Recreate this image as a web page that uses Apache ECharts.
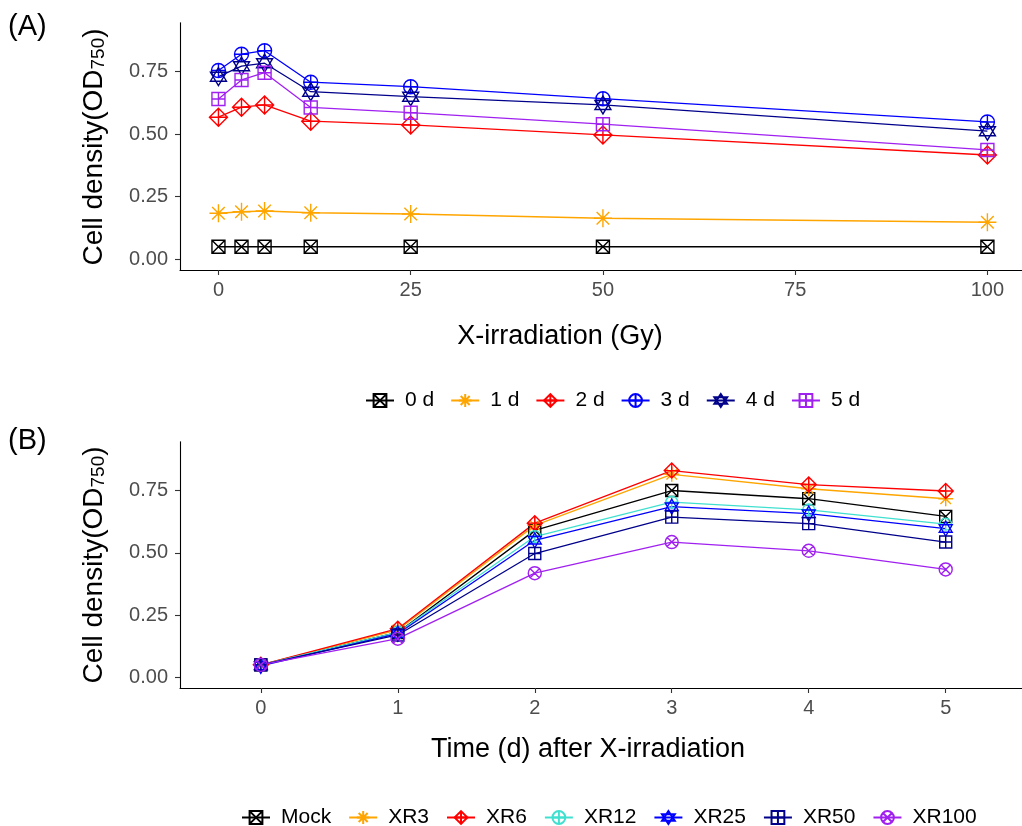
<!DOCTYPE html>
<html><head><meta charset="utf-8">
<script src="https://cdn.jsdelivr.net/npm/echarts@6/dist/echarts.min.js"></script>
<style>html,body{margin:0;padding:0;background:#fff}#c{width:1022px;height:826px}</style>
</head><body><div id="c"></div>
<script>
// ---- Panel A data ----
const doseA = [0, 3, 6, 12, 25, 50, 100];
const namesA = ['0 d', '1 d', '2 d', '3 d', '4 d', '5 d'];
const d0 = [0.05, 0.05, 0.05, 0.05, 0.05, 0.05, 0.05];
const d1 = [0.184, 0.19, 0.193, 0.186, 0.181, 0.164, 0.148];
const d2 = [0.568, 0.608, 0.617, 0.552, 0.537, 0.497, 0.417];
const d3 = [0.755, 0.82, 0.834, 0.708, 0.69, 0.642, 0.549];
const d4 = [0.73, 0.772, 0.784, 0.67, 0.65, 0.617, 0.512];
const d5 = [0.641, 0.717, 0.746, 0.607, 0.586, 0.54, 0.437];
const ticksAx = [0, 25, 50, 75, 100];
// ---- Panel B data ----
const days = [0, 1, 2, 3, 4, 5];
const namesB = ['Mock', 'XR3', 'XR6', 'XR12', 'XR25', 'XR50', 'XR100'];
const mock = [0.05, 0.18, 0.59, 0.75, 0.717, 0.646];
const xr3 = [0.05, 0.19, 0.61, 0.815, 0.757, 0.717];
const xr6 = [0.05, 0.195, 0.619, 0.83, 0.774, 0.748];
const xr12 = [0.05, 0.18, 0.565, 0.703, 0.672, 0.615];
const xr25 = [0.046, 0.175, 0.55, 0.685, 0.657, 0.597];
const xr50 = [0.05, 0.17, 0.497, 0.643, 0.617, 0.543];
const xr100 = [0.05, 0.155, 0.418, 0.543, 0.508, 0.433];
const ticksY = [0, 0.25, 0.5, 0.75];

// symbol paths (R pch 7..13)
const SYM = {
  sqx: 'path://M0,0L100,0L100,100L0,100Z M0,0L100,100 M100,0L0,100',
  ast: 'path://M50,0L50,100 M0,50L100,50 M15,15L85,85 M85,15L15,85',
  dia: 'path://M50,0L100,50L50,100L0,50Z M50,0L50,100 M0,50L100,50',
  cip: 'path://M0,50A50,50 0 1,1 100,50A50,50 0 1,1 0,50Z M50,0L50,100 M0,50L100,50',
  star: 'path://M50,0L100,75L0,75Z M50,100L100,25L0,25Z',
  sqp: 'path://M0,0L100,0L100,100L0,100Z M50,0L50,100 M0,50L100,50',
  cix: 'path://M0,50A50,50 0 1,1 100,50A50,50 0 1,1 0,50Z M15,15L85,85 M85,15L15,85'
};

function mk(name, xs, ys, color, sym, size, gi) {
  return {
    name: name, type: 'line', xAxisIndex: gi, yAxisIndex: gi,
    data: xs.map((x, i) => [x, ys[i]]),
    symbol: SYM[sym], symbolSize: size, showAllSymbol: true,
    lineStyle: { color: color, width: 1.3 },
    itemStyle: { color: 'rgba(0,0,0,0)', borderColor: color, borderWidth: 1.4 },
    emphasis: { disabled: true }, animation: false, z: 2
  };
}

const colsA = ['#000000', '#FFA500', '#FF0000', '#0000FF', '#00008B', '#A020F0'];
const symsA = ['sqx', 'ast', 'dia', 'cip', 'star', 'sqp'];
const sizesA = [13, 18, 18, 14, [16, 18], 13];
const dataA = [d0, d1, d2, d3, d4, d5];
const colsB = ['#000000', '#FFA500', '#FF0000', '#40E0D0', '#0000FF', '#00008B', '#A020F0'];
const symsB = ['sqx', 'ast', 'dia', 'cip', 'star', 'sqp', 'cix'];
const sizesB = [12, 15, 15, 12, [13, 15], 12, 13];
const dataB = [mock, xr3, xr6, xr12, xr25, xr50, xr100];

const series = [];
namesA.forEach((n, i) => series.push(mk(n, doseA, dataA[i], colsA[i], symsA[i], sizesA[i], 0)));
namesB.forEach((n, i) => series.push(mk(n, days, dataB[i], colsB[i], symsB[i], sizesB[i], 1)));

const FONT = '"Liberation Sans", Arial, sans-serif';
function yAx(gi) {
  return {
    type: 'value', gridIndex: gi, min: -0.043, max: 0.946,
    axisLine: { show: true, onZero: false, lineStyle: { color: '#000', width: 1.1 } },
    axisTick: { show: true, length: 5, lineStyle: { color: '#333', width: 1.1 }, customValues: ticksY },
    axisLabel: { customValues: ticksY, formatter: v => v.toFixed(2), color: '#4D4D4D', fontSize: 20, fontFamily: FONT, margin: 12 },
    splitLine: { show: false }
  };
}
function xAx(gi, min, max, ticks) {
  return {
    type: 'value', gridIndex: gi, min: min, max: max,
    axisLine: { show: true, onZero: false, lineStyle: { color: '#000', width: 1.1 } },
    axisTick: { show: true, length: 5, lineStyle: { color: '#333', width: 1.1 }, customValues: ticks },
    axisLabel: { customValues: ticks, color: '#4D4D4D', fontSize: 20, fontFamily: FONT, margin: 10 },
    splitLine: { show: false }
  };
}

function ytitle(cy) {
  return {
    type: 'text', x: 90, y: cy, rotation: Math.PI / 2, silent: true,
    style: {
      text: '{a|Cell density(OD}{s|750}{a|)}',
      align: 'center', verticalAlign: 'middle',
      rich: {
        a: { fontSize: 28, lineHeight: 36, fontFamily: FONT, fill: '#000', verticalAlign: 'bottom' },
        s: { fontSize: 19, lineHeight: 18, fontFamily: FONT, fill: '#000', verticalAlign: 'bottom' }
      }
    }
  };
}

const legendCommon = {
  orient: 'horizontal', itemWidth: 28, itemHeight: 16,
  selectedMode: false,
  textStyle: { fontSize: 21, color: '#000', fontFamily: FONT, padding: [0, 0, 0, 6] }
};

const chart = echarts.init(document.getElementById('c'), null, { renderer: 'canvas' });
chart.setOption({
  animation: false,
  backgroundColor: '#fff',
  grid: [
    { left: 180, top: 22.7, right: 0, height: 247.3 },
    { left: 180, top: 441.7, right: 0, height: 246.3 }
  ],
  xAxis: [xAx(0, -5, 104.5, ticksAx), xAx(1, -0.59, 5.557, days)],
  yAxis: [yAx(0), yAx(1)],
  legend: [
    Object.assign({}, legendCommon, { data: namesA, top: 385, left: 360, itemGap: 16 }),
    Object.assign({}, legendCommon, { data: namesB, top: 802, left: 236, itemGap: 17 })
  ],
  graphic: [
    { type: 'text', left: 8, top: 12, silent: true, style: { text: '(A)', fontSize: 29, fontFamily: FONT, fill: '#000' } },
    { type: 'text', left: 8, top: 426, silent: true, style: { text: '(B)', fontSize: 29, fontFamily: FONT, fill: '#000' } },
    { type: 'text', x: 560, y: 337, silent: true, style: { text: 'X-irradiation (Gy)', fontSize: 27, fontFamily: FONT, fill: '#000', align: 'center', verticalAlign: 'middle' } },
    { type: 'text', x: 588, y: 750, silent: true, style: { text: 'Time (d) after X-irradiation', fontSize: 27, fontFamily: FONT, fill: '#000', align: 'center', verticalAlign: 'middle' } },
    ytitle(147),
    ytitle(565)
  ],
  series: series
});
</script>
</body></html>
